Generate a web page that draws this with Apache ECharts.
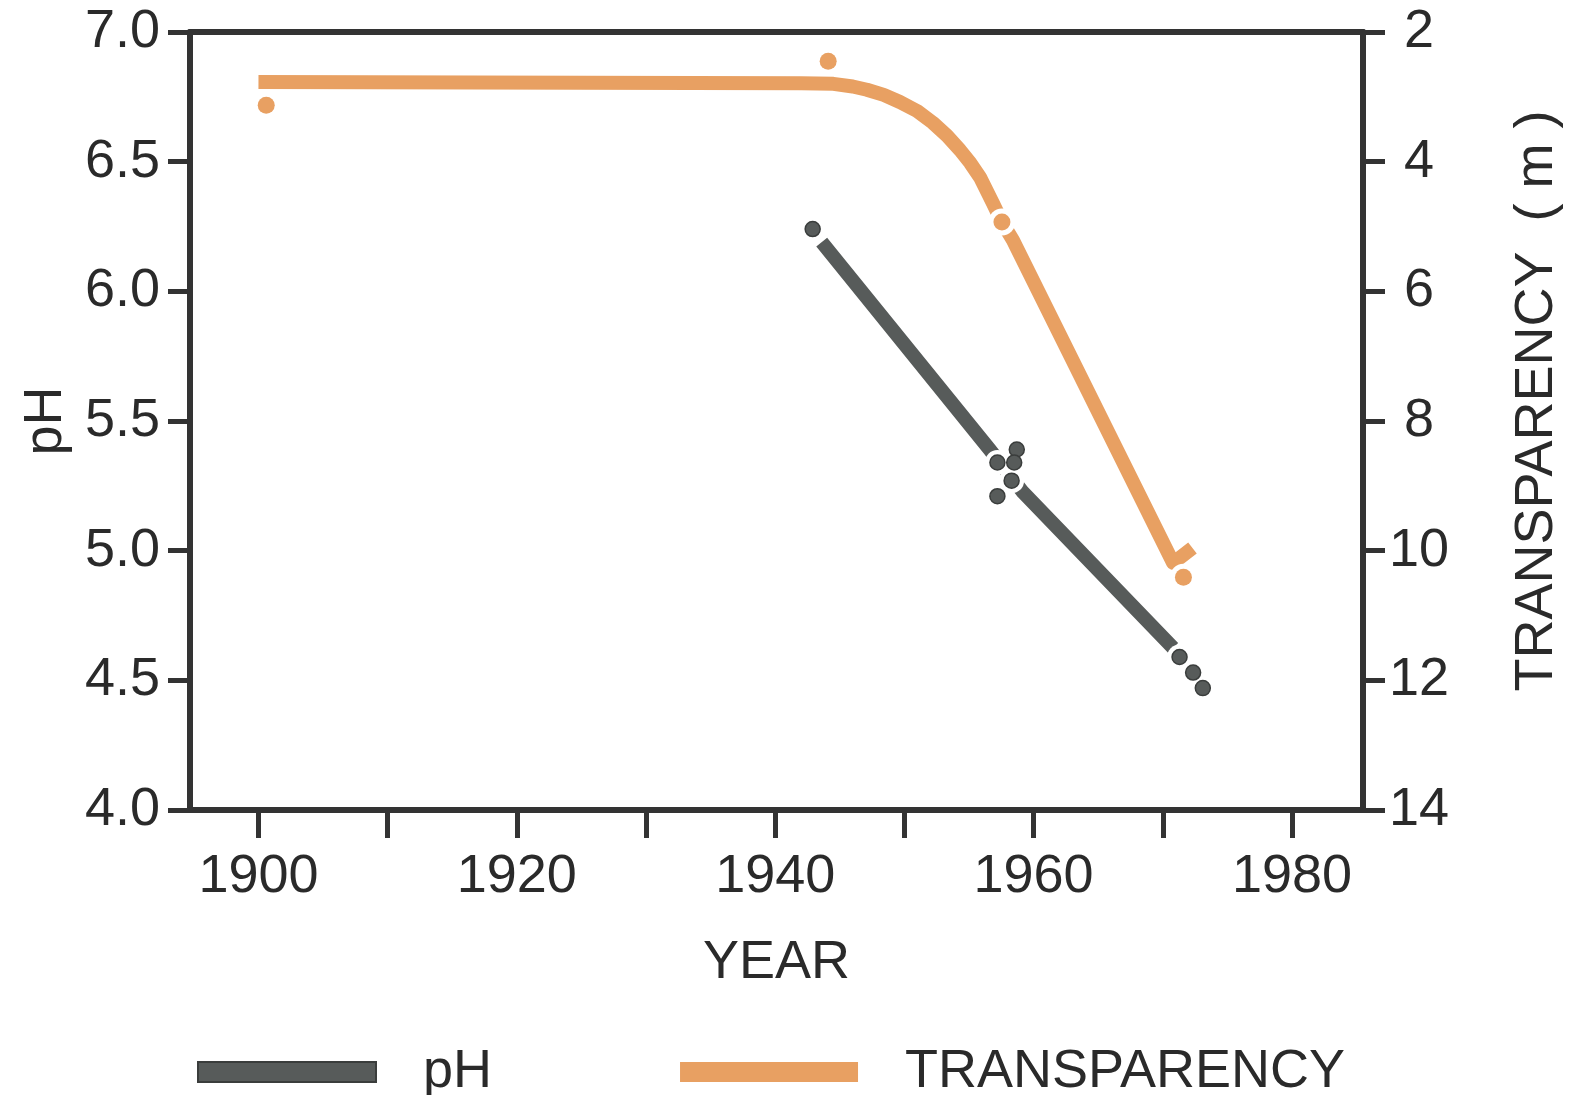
<!DOCTYPE html>
<html>
<head>
<meta charset="utf-8">
<script src="https://cdn.jsdelivr.net/npm/echarts@6/dist/echarts.min.js"></script>
<style>
  html, body { margin: 0; padding: 0; background: #fff; }
  #chart { width: 1581px; height: 1095px; }
</style>
</head>
<body>
<div id="chart"></div>
<script>
// pH line + sample points (left axis)
const phLineYears = [1943.6, 1956.6, 1959.1, 1970.8];
const phLineValues = [6.19, 5.39, 5.23, 4.625];
const phPointYears = [1942.9, 1957.2, 1958.7, 1958.5, 1958.3, 1957.2, 1971.3, 1972.35, 1973.1];
const phPointValues = [6.24, 5.34, 5.39, 5.34, 5.27, 5.21, 4.59, 4.53, 4.47];

// transparency line + sample points (right axis, metres)
const trLineYears = [1900, 1942, 1944.5, 1946, 1947.1, 1948.4, 1949.65, 1951, 1952.2, 1953.3, 1954.3, 1955.1, 1955.85, 1956.85, 1957.55, 1958.4, 1970.8, 1972.3];
const trLineValues = [2.77, 2.79, 2.80, 2.84, 2.89, 2.97, 3.08, 3.22, 3.40, 3.60, 3.82, 4.02, 4.24, 4.64, 4.93, 5.21, 10.19, 9.96];
const trPointYears = [1900.6, 1944.1, 1957.55, 1971.6];
const trPointValues = [3.13, 2.45, 4.93, 10.41];

const yearTicks = [1900, 1910, 1920, 1930, 1940, 1950, 1960, 1970, 1980];
const yearLabels = [1900, 1920, 1940, 1960, 1980];

const GRAY = "#575b5a";
const ORANGE = "#e8a062";
const INK = "#333333";
const FONT = "Liberation Sans";

function pairs(xs, ys) {
  return xs.map((x, i) => [x, ys[i]]);
}

let axisLine = { show: true, lineStyle: { color: INK, width: 6 } };
let tickStyle = { color: INK, width: 5 };
let labelText = { fontFamily: FONT, fontSize: 54, color: "#2a2a2a" };

const myChart = echarts.init(document.getElementById("chart"));

const option = {
  animation: false,
  backgroundColor: "#fff",
  grid: { left: 190, right: 218, top: 32, bottom: 285 },
  legend: {
    left: 192,
    top: 1040,
    itemWidth: 178,
    itemHeight: 20,
    itemGap: 188,
    textStyle: { fontFamily: FONT, fontSize: 54, color: "#2a2a2a", padding: [0, 0, 0, 42] },
    data: [
      { name: "pH", icon: "rect", itemStyle: { color: GRAY, borderColor: "#3a3d3c", borderWidth: 2 } },
      { name: "TRANSPARENCY", icon: "rect", itemStyle: { color: ORANGE } },
    ],
  },
  xAxis: [
    {
      type: "value",
      position: "bottom",
      min: 1894.7,
      max: 1985.5,
      name: "YEAR",
      nameLocation: "middle",
      nameGap: 126,
      nameTextStyle: labelText,
      axisLine: axisLine,
      axisTick: { show: true, length: 28, lineStyle: tickStyle, customValues: yearTicks },
      axisLabel: Object.assign({ margin: 40, customValues: yearLabels, formatter: (v) => String(v) }, labelText),
      splitLine: { show: false },
    },
    {
      type: "value",
      position: "top",
      min: 1894.7,
      max: 1985.5,
      axisLine: axisLine,
      axisTick: { show: false },
      axisLabel: { show: false },
      splitLine: { show: false },
    },
  ],
  yAxis: [
    {
      type: "value",
      position: "left",
      min: 4,
      max: 7,
      interval: 0.5,
      name: "pH",
      nameLocation: "middle",
      nameRotate: 90,
      nameGap: 117,
      nameTextStyle: labelText,
      axisLine: axisLine,
      axisTick: { show: true, length: 22, lineStyle: tickStyle },
      axisLabel: Object.assign({ margin: 30, formatter: (v) => v.toFixed(1) }, labelText),
      splitLine: { show: false },
    },
    {
      type: "value",
      position: "right",
      min: 2,
      max: 14,
      interval: 2,
      inverse: true,
      name: "TRANSPARENCY  ( m )",
      nameLocation: "middle",
      nameRotate: 90,
      nameGap: 147,
      nameTextStyle: Object.assign({ padding: [0, 0, 0, 40] }, labelText),
      axisLine: axisLine,
      axisTick: { show: true, length: 22, lineStyle: tickStyle },
      axisLabel: Object.assign({ margin: 56, align: "center" }, labelText),
      splitLine: { show: false },
    },
  ],
  series: [
    {
      name: "TRANSPARENCY",
      type: "line",
      yAxisIndex: 1,
      smooth: false,
      symbol: "none",
      z: 2,
      itemStyle: { color: ORANGE },
      lineStyle: { color: ORANGE, width: 14, join: "round" },
      data: pairs(trLineYears, trLineValues),
    },
    {
      name: "pH",
      type: "line",
      yAxisIndex: 0,
      symbol: "none",
      z: 2,
      itemStyle: { color: GRAY },
      lineStyle: { color: GRAY, width: 14, join: "round" },
      data: pairs(phLineYears, phLineValues),
    },
    // white halos so the lines break around the sample points
    {
      name: "halo-tr",
      type: "scatter",
      yAxisIndex: 1,
      symbolSize: 27,
      z: 3,
      silent: true,
      itemStyle: { color: "#ffffff", opacity: 1 },
      data: pairs(trPointYears, trPointValues),
    },
    {
      name: "halo-ph",
      type: "scatter",
      yAxisIndex: 0,
      symbolSize: 25,
      z: 3,
      silent: true,
      itemStyle: { color: "#ffffff", opacity: 1 },
      data: pairs(phPointYears, phPointValues),
    },
    {
      name: "tr-points",
      type: "scatter",
      yAxisIndex: 1,
      symbolSize: 17,
      z: 4,
      itemStyle: { color: ORANGE, opacity: 1 },
      data: pairs(trPointYears, trPointValues),
    },
    {
      name: "ph-points",
      type: "scatter",
      yAxisIndex: 0,
      symbolSize: 15,
      z: 4,
      itemStyle: { color: GRAY, borderColor: "#3a3d3c", borderWidth: 1.5, opacity: 1 },
      data: pairs(phPointYears, phPointValues),
    },
  ],
};

myChart.setOption(option);
</script>
</body>
</html>
